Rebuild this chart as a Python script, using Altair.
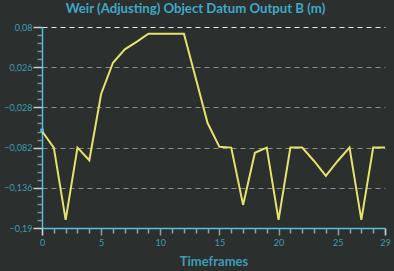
import altair as alt
import pandas as pd

timeframes = list(range(30))
values = [-0.060, -0.082, -0.179, -0.082, -0.099, -0.010, 0.032, 0.050, 0.060, 0.071,
          0.071, 0.071, 0.071, 0.011, -0.049, -0.081, -0.082, -0.159, -0.089, -0.082,
          -0.179, -0.082, -0.082, -0.100, -0.120, -0.100, -0.082, -0.179, -0.082, -0.082]

y_major = [0.08, 0.026, -0.028, -0.082, -0.136, -0.19]
y_all = [round(0.08 - 0.0108 * k, 4) for k in range(26)]
x_ticks = list(range(30))

df = pd.DataFrame({"t": timeframes, "v": values})

BG = "#2b2f2e"
CYAN = "#4cc3e3"
LABEL = "#3e9cb6"
FONT = "Lato"

is_major_y = "abs((0.08 - datum.value) / 0.054 - round((0.08 - datum.value) / 0.054)) < 0.01"
is_major_x = "datum.value % 5 === 0 || datum.value === 29"

x_enc = alt.X(
    "t:Q",
    scale=alt.Scale(domain=[0, 29], nice=False, zero=False),
    axis=alt.Axis(
        title="Timeframes",
        values=x_ticks,
        labelExpr="(datum.value % 5 === 0 || datum.value === 29) ? datum.label : ''",
        labelOverlap=False,
        labelFlush=False,
        grid=False,
        domainColor=CYAN,
        domainWidth=1.5,
        tickColor={"condition": {"test": "datum.value === 0 || datum.value === 29", "value": "#dddddd"},
                   "value": "#9a9a9a"},
        tickSize={"condition": {"test": is_major_x, "value": 7}, "value": 5},
        tickWidth=1.5,
        labelColor=LABEL,
        labelFont=FONT,
        labelFontSize=9,
        labelPadding=3,
        titleColor=LABEL,
        titleFont=FONT,
        titleFontSize=13,
        titleFontWeight="bold",
        titlePadding=8,
    ),
)

y_enc = alt.Y(
    "v:Q",
    scale=alt.Scale(domain=[-0.19, 0.08], nice=False, zero=False),
    axis=alt.Axis(
        title=None,
        values=y_all,
        labelExpr="(" + is_major_y + ") ? replace(format(datum.value, '.3~f'), '.', ',') : ''",
        labelOverlap=False,
        labelFlush=False,
        grid=True,
        gridDash=[5, 4],
        gridWidth=1.2,
        gridColor={"condition": {"test": "datum.value > 0.07", "value": "#e8e8e8"}, "value": "#8c8c8c"},
        gridOpacity={"condition": {"test": is_major_y, "value": 1}, "value": 0},
        domainColor=CYAN,
        domainWidth=1.5,
        tickColor={"condition": {"test": is_major_y, "value": "#cfcfcf"}, "value": "#8a8a8a"},
        tickSize={"condition": {"test": is_major_y, "value": 9}, "value": 5},
        tickWidth=1.5,
        labelColor=LABEL,
        labelFont=FONT,
        labelFontSize=9,
        labelPadding=1,
    ),
)

line = alt.Chart(df).mark_line(color="#e6e36c", strokeWidth=2).encode(x=x_enc, y=y_enc)

start = alt.Chart(df.iloc[[0]]).mark_square(color=CYAN, size=12, yOffset=-1, opacity=1).encode(
    x=x_enc, y=y_enc
)

chart = (
    alt.layer(line, start)
    .properties(
        width=343,
        height=201,
        background=BG,
        padding={"left": 42, "top": 27, "right": 9, "bottom": 43},
        autosize=alt.AutoSizeParams(type="none"),
        title=alt.TitleParams(
            "Weir (Adjusting) Object Datum Output B (m)",
            color="#3fa9c8",
            font=FONT,
            fontSize=13.2,
            fontWeight="bold",
            anchor="middle",
            dx=-18,
            offset=7,
        ),
    )
    .configure_view(stroke=None)
)

chart.save("out.html", embed_options={"renderer": "svg", "actions": False})
